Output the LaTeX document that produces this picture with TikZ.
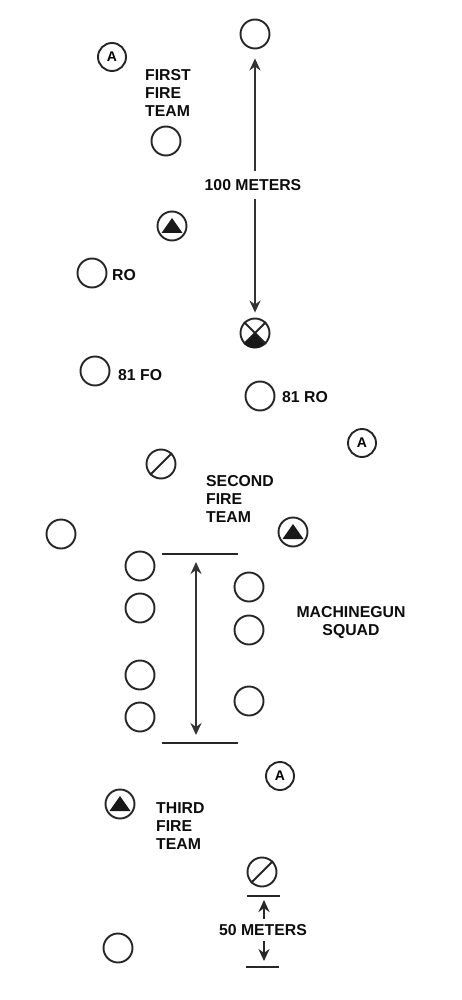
\documentclass[tikz,border=0pt]{standalone}
\usepackage{fontspec}
\setmainfont{Liberation Sans}
\usetikzlibrary{arrows.meta}
\tikzset{
  man/.style={circle,draw=black!85,line width=1.9pt,minimum size=29pt,inner sep=0pt},
  amark/.style={man,minimum size=28pt,font=\fontsize{14}{16}\bfseries\selectfont},
  lbl/.style={font=\fontsize{15.8}{18}\bfseries\selectfont,text=black!95,inner sep=0pt},
  lblleft/.style={lbl,align=left,anchor=west},
  lblmid/.style={lbl,align=center}
}
\begin{document}
\begin{tikzpicture}[x=1pt,y=-1pt,>={Stealth[length=12pt,width=11pt]}]
\useasboundingbox (0,0) rectangle (461,1000);
\node[man] (top) at (255,34) {};
\node[amark] (aone) at (112,57) {A};
\node[man] (first) at (166,141) {};
\node[man] (triA) at (172,226) {};
\node[man] (ro) at (92,273) {};
\node[man] (lead) at (255,333) {};
\node[man] (fo) at (95,371) {};
\node[man] (rad) at (260,396) {};
\node[amark] (atwo) at (362,443) {A};
\node[man] (slashA) at (161,464) {};
\node[man] (second) at (61,534) {};
\node[man] (triB) at (293,532) {};
\node[man] (gunA) at (140,566) {};
\node[man] (gunB) at (140,608) {};
\node[man] (gunC) at (140,675) {};
\node[man] (gunD) at (140,717) {};
\node[man] (gunE) at (249,587) {};
\node[man] (gunF) at (249,630) {};
\node[man] (gunG) at (249,701) {};
\node[amark] (athree) at (280,776) {A};
\node[man] (triC) at (120,804) {};
\node[man] (slashB) at (262,872) {};
\node[man] (third) at (118,948) {};
\node[lblleft] (firstlbl) at (145,93) {FIRST\\FIRE\\TEAM};
\node[lbl] (hundred) at (253,185) {100 METERS};
\node[lblleft] at (112,275) (rolbl) {RO};
\node[lblleft] at (118,375) (folbl) {81 FO};
\node[lblleft] at (282,397) (radlbl) {81 RO};
\node[lblleft] (secondlbl) at (206,499) {SECOND\\FIRE\\TEAM};
\node[lblmid] (gunlbl) at (351,623) {MACHINEGUN\\SQUAD};
\node[lblleft] (thirdlbl) at (156,826) {THIRD\\FIRE\\TEAM};
\node[lbl] (fifty) at (263,930) {50 METERS};
\coordinate (gunTL) at (162,554);
\coordinate (gunTR) at (238,554);
\coordinate (gunBL) at (162,743);
\coordinate (gunBR) at (238,743);
\coordinate (gunT) at (196,554);
\coordinate (gunB2) at (196,743);
\coordinate (endTL) at (247,896);
\coordinate (endTR) at (280,896);
\coordinate (endBL) at (246,967);
\coordinate (endBR) at (279,967);
\coordinate (endT) at (264,896);
\coordinate (endB) at (264,967);
\foreach \n in {triA,triB,triC}
  \fill[black!90] ([shift={(0,-8)}]\n.center) -- ([shift={(10.5,7)}]\n.center) -- ([shift={(-10.5,7)}]\n.center) -- cycle;
\foreach \n in {slashA,slashB}
  \draw[line width=1.9pt,black!85] (\n.225) -- (\n.45);
\draw[line width=1.9pt,black!85] (lead.45) -- (lead.225) (lead.135) -- (lead.315);
\fill[black!90] (lead.center) -- (lead.225) arc[start angle=225,end angle=315,radius=14.5pt] -- cycle;
\draw[->,line width=1.9pt,black!80,shorten >=9pt] (hundred.north -| top) ++(0,-8) -- (top.south);
\draw[->,line width=1.9pt,black!80,shorten >=5pt] (hundred.south -| lead) ++(0,8) -- (lead.north);
\draw[line width=1.7pt,black!85] (gunTL) -- (gunTR);
\draw[line width=1.7pt,black!85] (gunBL) -- (gunBR);
\draw[<->,line width=1.7pt,black!80,shorten >=8pt,shorten <=8pt] (gunT) -- (gunB2);
\draw[line width=1.7pt,black!85] (endTL) -- (endTR);
\draw[line width=1.7pt,black!85] (endBL) -- (endBR);
\draw[->,line width=2pt,black!85,shorten >=4pt] (fifty.north -| endT) ++(0,-5) -- (endT);
\draw[->,line width=2pt,black!85,shorten >=6pt] (fifty.south -| endB) ++(0,5) -- (endB);
\end{tikzpicture}
\end{document}
